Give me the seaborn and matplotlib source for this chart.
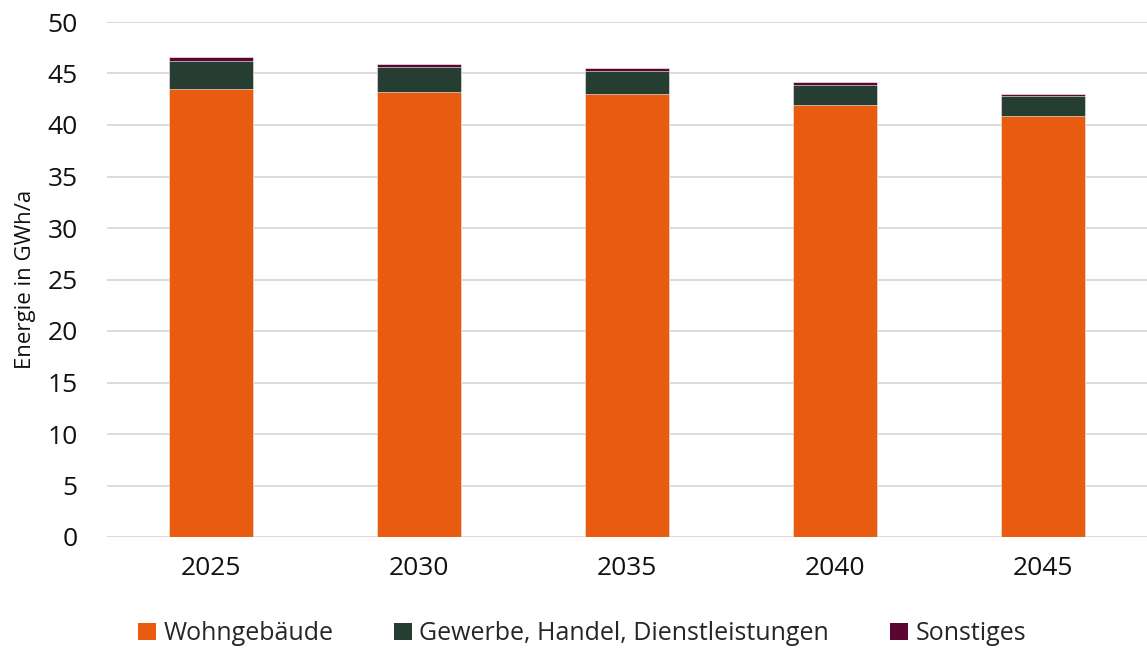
import matplotlib
matplotlib.use("Agg")
import matplotlib.pyplot as plt
import seaborn as sns
import pandas as pd
from matplotlib.patches import Patch

years = ["2025", "2030", "2035", "2040", "2045"]
wohngebaeude = [43.45, 43.25, 43.0, 41.9, 40.9]
ghd = [2.75, 2.4, 2.2, 2.0, 1.9]
sonstiges = [0.4, 0.3, 0.3, 0.3, 0.25]

series_names = ["Wohngebäude", "Gewerbe, Handel, Dienstleistungen", "Sonstiges"]
colors = ["#E95C0F", "#263E32", "#5A0630"]

sns.set_theme(style="white")
plt.rcParams["font.family"] = ["Open Sans", "DejaVu Sans"]

fig = plt.figure(figsize=(11.47, 6.5), dpi=100)
ax = fig.add_axes([107 / 1147, (650 - 537) / 650, (1147 - 107) / 1147, 515 / 650])

df = pd.DataFrame({"Jahr": years, "w": wohngebaeude, "g": ghd, "s": sonstiges})
df["ws"] = df["w"] + df["g"]
df["wgs"] = df["ws"] + df["s"]

# stacked bars: draw cumulative totals back to front
for col, color in zip(["wgs", "ws", "w"], colors[::-1]):
    sns.barplot(data=df, x="Jahr", y=col, color=color, width=0.4,
                edgecolor="white", linewidth=0.4, ax=ax, zorder=3, saturation=1)

ax.set_ylim(0, 50)
ax.set_xlim(-0.5, 4.5)
ax.set_yticks(range(0, 51, 5))
ax.yaxis.grid(True, color="#D9D9D9", linewidth=1.3, zorder=0)
ax.set_axisbelow(True)
for s in ax.spines.values():
    s.set_visible(False)
ax.tick_params(axis="both", length=0, labelsize=19, colors="#111111")
ax.tick_params(axis="y", pad=21)
ax.tick_params(axis="x", pad=14)
ax.set_xlabel("")
ax.set_ylabel("Energie in GWh/a", fontsize=16, color="#111111")
ax.yaxis.set_label_coords(-71 / 1040, 0.5)

handles = [Patch(facecolor=c, edgecolor="none") for c in colors]
fig.legend(handles, series_names, loc="center", bbox_to_anchor=(0.5075, 0.025),
           ncol=3, frameon=False, fontsize=18, handlelength=0.7, handleheight=0.7,
           handletextpad=0.3, columnspacing=2.45)

fig.savefig("out.png", dpi=100)
